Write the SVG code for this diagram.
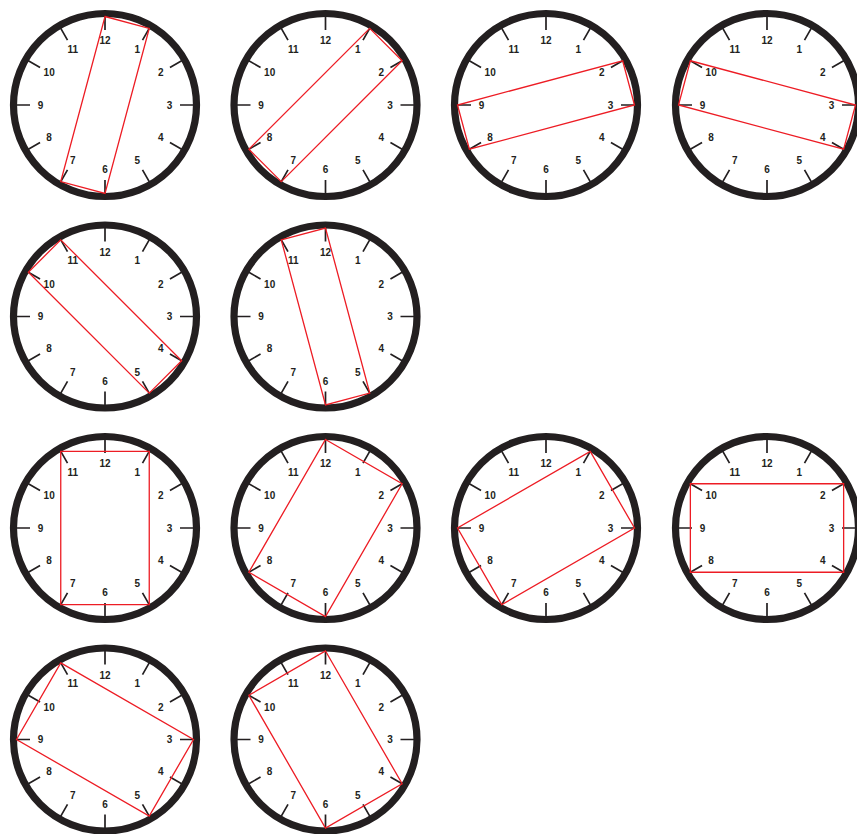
<svg xmlns="http://www.w3.org/2000/svg" xmlns:xlink="http://www.w3.org/1999/xlink" width="857" height="834" viewBox="0 0 857 834">
<style>
.ring{fill:none;stroke:#231f20;stroke-width:7.2}
.tick{fill:none;stroke:#231f20;stroke-width:1.7}
.num{font-family:"Liberation Sans",Arial,sans-serif;font-weight:bold;font-size:10px;fill:#231f20;text-anchor:middle}
.rect{fill:none;stroke:#ed1c24;stroke-width:1.3;stroke-linejoin:miter}
</style>
<defs>
<g id="face">
<circle class="ring" cx="0" cy="0" r="91.5"/>
<path class="tick" d="M0,-75L0,-89M37.5,-64.95L44.5,-77.08M64.95,-37.5L77.08,-44.5M75,0L89,0M64.95,37.5L77.08,44.5M37.5,64.95L44.5,77.08M0,75L0,89M-37.5,64.95L-44.5,77.08M-64.95,37.5L-77.08,44.5M-75,0L-89,0M-64.95,-37.5L-77.08,-44.5M-37.5,-64.95L-44.5,-77.08"/>
</g>
<g id="nums">
<text class="num" x="0" y="-60.9">12</text>
<text class="num" x="32.25" y="-52.26">1</text>
<text class="num" x="55.86" y="-28.65">2</text>
<text class="num" x="64.5" y="3.6">3</text>
<text class="num" x="55.86" y="35.85">4</text>
<text class="num" x="32.25" y="59.46">5</text>
<text class="num" x="0" y="68.1">6</text>
<text class="num" x="-32.25" y="59.46">7</text>
<text class="num" x="-55.86" y="35.85">8</text>
<text class="num" x="-64.5" y="3.6">9</text>
<text class="num" x="-55.86" y="-28.65">10</text>
<text class="num" x="-32.25" y="-52.26">11</text>
</g>
</defs>
<rect width="857" height="834" fill="#ffffff"/>

<g id="clock1" transform="translate(105,105)">
<use href="#face" xlink:href="#face"/>
<use href="#nums" xlink:href="#nums"/>
<polygon class="rect" points="0,-88.5 44.25,-76.64 0,88.5 -44.25,76.64"/>
</g>
<g id="clock2" transform="translate(325.5,105)">
<use href="#face" xlink:href="#face"/>
<use href="#nums" xlink:href="#nums"/>
<polygon class="rect" points="44.25,-76.64 76.64,-44.25 -44.25,76.64 -76.64,44.25"/>
</g>
<g id="clock3" transform="translate(546,105)">
<use href="#face" xlink:href="#face"/>
<use href="#nums" xlink:href="#nums"/>
<polygon class="rect" points="76.64,-44.25 88.5,0 -76.64,44.25 -88.5,0"/>
</g>
<g id="clock4" transform="translate(767,105)">
<use href="#face" xlink:href="#face"/>
<use href="#nums" xlink:href="#nums"/>
<polygon class="rect" points="-76.64,-44.25 88.5,0 76.64,44.25 -88.5,0"/>
</g>

<g id="clock5" transform="translate(105,316.5)">
<use href="#face" xlink:href="#face"/>
<use href="#nums" xlink:href="#nums"/>
<polygon class="rect" points="-44.25,-76.64 76.64,44.25 44.25,76.64 -76.64,-44.25"/>
</g>
<g id="clock6" transform="translate(325.5,316.5)">
<use href="#face" xlink:href="#face"/>
<use href="#nums" xlink:href="#nums"/>
<polygon class="rect" points="-44.25,-76.64 0,-88.5 44.25,76.64 0,88.5"/>
</g>

<g id="clock7" transform="translate(105,528)">
<use href="#face" xlink:href="#face"/>
<use href="#nums" xlink:href="#nums"/>
<polygon class="rect" points="-44.25,-76.64 44.25,-76.64 44.25,76.64 -44.25,76.64"/>
</g>
<g id="clock8" transform="translate(325.5,528)">
<use href="#face" xlink:href="#face"/>
<use href="#nums" xlink:href="#nums"/>
<polygon class="rect" points="0,-88.5 76.64,-44.25 0,88.5 -76.64,44.25"/>
</g>
<g id="clock9" transform="translate(546,528)">
<use href="#face" xlink:href="#face"/>
<use href="#nums" xlink:href="#nums"/>
<polygon class="rect" points="44.25,-76.64 88.5,0 -44.25,76.64 -88.5,0"/>
</g>
<g id="clock10" transform="translate(767,528)">
<use href="#face" xlink:href="#face"/>
<use href="#nums" xlink:href="#nums"/>
<polygon class="rect" points="-76.64,-44.25 76.64,-44.25 76.64,44.25 -76.64,44.25"/>
</g>

<g id="clock11" transform="translate(105,739.5)">
<use href="#face" xlink:href="#face"/>
<use href="#nums" xlink:href="#nums"/>
<polygon class="rect" points="-44.25,-76.64 88.5,0 44.25,76.64 -88.5,0"/>
</g>
<g id="clock12" transform="translate(325.5,739.5)">
<use href="#face" xlink:href="#face"/>
<use href="#nums" xlink:href="#nums"/>
<polygon class="rect" points="0,-88.5 76.64,44.25 0,88.5 -76.64,-44.25"/>
</g>
</svg>
